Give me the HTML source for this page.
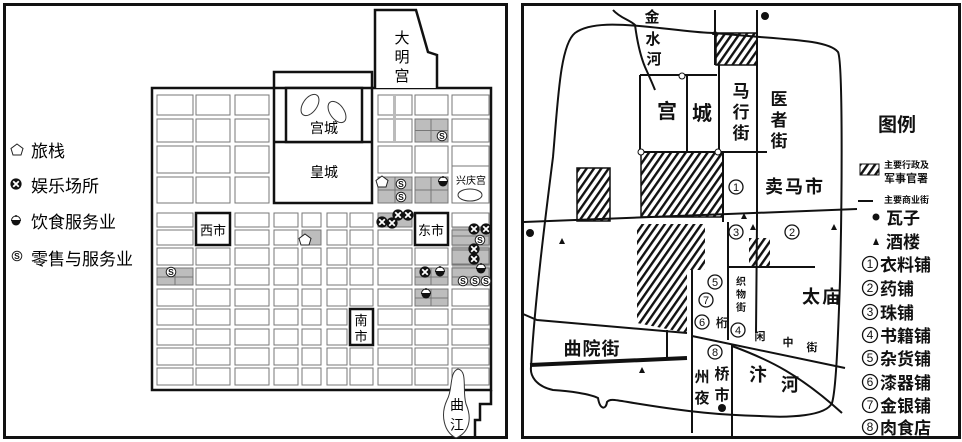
<!DOCTYPE html>
<html><head><meta charset="utf-8"><style>
html,body{margin:0;padding:0;background:#fff}
svg{display:block}
text{font-family:"Liberation Sans","Noto Sans CJK SC",sans-serif}
</style></head><body>
<svg width="962" height="442" viewBox="0 0 962 442" xmlns="http://www.w3.org/2000/svg">
<defs>
<path id="rows" vector-effect="non-scaling-stroke" fill="none" stroke="#777" stroke-width="1" d="M0,95h1v20h-1zM0,119h1v23h-1zM0,146h1v27h-1zM0,177h1v26h-1zM0,213h1v14h-1zM0,230h1v15h-1zM0,248h1v17h-1zM0,268h1v17h-1zM0,289h1v17h-1zM0,309h1v16h-1zM0,329h1v16h-1zM0,348h1v17h-1zM0,368h1v17h-1z"/>
<path id="rowsl" vector-effect="non-scaling-stroke" fill="none" stroke="#777" stroke-width="1" d="M0,213h1v14h-1zM0,230h1v15h-1zM0,248h1v17h-1zM0,268h1v17h-1zM0,289h1v17h-1zM0,309h1v16h-1zM0,329h1v16h-1zM0,348h1v17h-1zM0,368h1v17h-1z"/>
<pattern id="h" width="6" height="6" patternUnits="userSpaceOnUse" patternTransform="rotate(35)">
<rect width="6" height="6" fill="#fff"/><rect width="2.4" height="6" fill="#111"/></pattern>
<g id="X"><circle r="5.6" fill="#111"/><path d="M-2.8,-2.8L2.8,2.8M2.8,-2.8L-2.8,2.8" stroke="#fff" stroke-width="1.8"/></g>
<g id="S"><circle r="4.8" fill="#fff" stroke="#222" stroke-width="1"/><text x="0" y="3.2" font-size="8.5" text-anchor="middle" fill="#111" font-weight="bold">S</text></g>
<g id="F"><path d="M-4.5,-0.5 A4.5,4.5 0 0 1 4.5,-0.5Z" fill="#fff" stroke="#111" stroke-width="1"/><path d="M-4.5,0 H4.5 A4.5,4.5 0 0 1 -4.5,0Z" fill="#111"/><circle cy="-5" r="1" fill="#111"/></g>
<path id="P" d="M0,-6 L6,-1.5 L4,5 L-4,5 L-6,-1.5Z" fill="#fff" stroke="#222" stroke-width="1"/>
</defs>

<rect x="4.5" y="4.5" width="502" height="433" fill="#fff" stroke="#111" stroke-width="3"/>
<use href="#P" x="17" y="150"/>
<text x="31" y="157" font-size="17">旅栈</text>
<use href="#X" x="16" y="184"/>
<text x="31" y="192" font-size="17">娱乐场所</text>
<use href="#F" x="16" y="221"/>
<text x="31" y="228" font-size="17">饮食服务业</text>
<use href="#S" x="17" y="256"/>
<text x="31" y="265" font-size="17">零售与服务业</text>

<g fill="#bdbdbd">
<rect x="415" y="119" width="33" height="23"/>
<rect x="378" y="177" width="34" height="26"/>
<rect x="415" y="177" width="33" height="26"/>
<rect x="378" y="213" width="34" height="14"/>
<rect x="452" y="227" width="37" height="58"/>
<rect x="415" y="268" width="33" height="17"/>
<rect x="415" y="289" width="33" height="17"/>
<rect x="157" y="268" width="36" height="17"/>
<rect x="302" y="230" width="19" height="15"/>
</g>
<g stroke="#777" stroke-width="1" fill="none">
<path d="M415,130.5h33M431,119v23M378,190h34M395,177v26M415,190h33M431,177v26M415,277h33M431,268v17M415,298h33M431,289v17M157,277h36M175,268v17M452,236h37M452,250h37M452,264h37M452,277h37"/>
</g>
<use href="#rows" transform="translate(157,0) scale(36,1)"/>
<use href="#rows" transform="translate(196,0) scale(34,1)"/>
<use href="#rows" transform="translate(235,0) scale(34,1)"/>
<use href="#rows" transform="translate(378,0) scale(34,1)"/>
<use href="#rows" transform="translate(415,0) scale(33,1)"/>
<use href="#rows" transform="translate(452,0) scale(37,1)"/>
<use href="#rowsl" transform="translate(274,0) scale(24,1)"/>
<use href="#rowsl" transform="translate(302,0) scale(19,1)"/>
<use href="#rowsl" transform="translate(327,0) scale(20,1)"/>
<use href="#rowsl" transform="translate(350,0) scale(23,1)"/>
<path d="M394.5,95v47" stroke="#bbb" stroke-width="3"/>
<path d="M152,88H491V390H152Z" fill="none" stroke="#111" stroke-width="2.5"/>
<path d="M491,390V404H480V420H475V437" fill="none" stroke="#111" stroke-width="2.5"/>
<rect x="274" y="72" width="98" height="131" fill="#fff" stroke="#111" stroke-width="2.5"/>
<path d="M274,88H372M274,142H372" stroke="#111" stroke-width="2.5"/>
<rect x="286" y="88" width="76" height="54" fill="#fff" stroke="#111" stroke-width="2.5"/>
<ellipse cx="310" cy="105" rx="7" ry="12" transform="rotate(35 310 105)" fill="none" stroke="#333"/>
<ellipse cx="337" cy="112" rx="7" ry="12" transform="rotate(-35 337 112)" fill="none" stroke="#333"/>
<text x="324" y="133" font-size="14" text-anchor="middle">宫城</text>
<text x="324" y="177" font-size="14" text-anchor="middle">皇城</text>
<path d="M375,88V10H416L428,52L437,55V88" fill="#fff" stroke="#111" stroke-width="2.5"/>
<text x="402" y="43" font-size="15" text-anchor="middle">大</text>
<text x="402" y="62" font-size="15" text-anchor="middle">明</text>
<text x="402" y="81" font-size="15" text-anchor="middle">宫</text>
<rect x="452" y="166" width="37" height="37" fill="#fff" stroke="#777"/>
<text x="471" y="184" font-size="10" text-anchor="middle">兴庆宫</text>
<ellipse cx="470" cy="195" rx="12" ry="6" fill="none" stroke="#333"/>
<rect x="196" y="213" width="34" height="32" fill="#fff" stroke="#111" stroke-width="2.5"/>
<text x="213" y="235" font-size="13" text-anchor="middle">西市</text>
<rect x="415" y="213" width="33" height="32" fill="#fff" stroke="#111" stroke-width="2.5"/>
<text x="431" y="235" font-size="13" text-anchor="middle">东市</text>
<rect x="350" y="309" width="23" height="36" fill="#fff" stroke="#111" stroke-width="2.5"/>
<text x="361" y="325" font-size="13" text-anchor="middle">南</text>
<text x="361" y="341" font-size="13" text-anchor="middle">市</text>
<path d="M458,369C449,372 453,390 447,400C440,415 444,432 456,438C470,432 472,418 466,404C462,390 468,371 458,369Z" fill="#fff" stroke="#333"/>
<text x="457" y="410" font-size="14" text-anchor="middle">曲</text>
<text x="457" y="430" font-size="14" text-anchor="middle">江</text>
<use href="#S" x="442" y="136"/>
<use href="#P" x="382" y="182"/>
<use href="#S" x="401" y="184"/><use href="#S" x="401" y="197"/>
<use href="#F" x="443" y="182"/>
<use href="#X" x="382" y="222"/><use href="#X" x="392" y="223"/><use href="#X" x="398" y="215"/><use href="#X" x="408" y="215"/>
<use href="#P" x="305" y="240"/>
<use href="#X" x="474" y="229"/><use href="#X" x="486" y="229"/><use href="#S" x="480" y="240"/>
<use href="#X" x="474" y="249"/><use href="#X" x="474" y="259"/>
<use href="#F" x="481" y="269"/>
<use href="#S" x="463" y="281"/><use href="#S" x="475" y="281"/><use href="#S" x="486" y="281"/>
<use href="#X" x="425" y="272"/><use href="#F" x="440" y="272"/>
<use href="#F" x="426" y="294"/>
<use href="#S" x="171" y="272"/>

<rect x="522.5" y="4.5" width="437" height="433" fill="#fff" stroke="#111" stroke-width="3"/>
<g fill="url(#h)">
<rect x="716" y="33" width="41" height="32"/>
<rect x="641" y="152" width="82" height="65"/>
<rect x="577" y="168" width="33" height="53"/>
<path d="M637,224H705V270H687V333L637,323Z"/>
<rect x="749" y="238" width="21" height="29"/>
</g>
<g fill="none" stroke="#111" stroke-width="2">
<path d="M553,157C558,100 560,45 575,33C590,22 620,24 650,27C680,30 700,33 713,33L760,37C800,40 830,42 838,52C843,62 842,200 840,280C838,340 836,390 832,403C826,416 790,418 760,416C720,415 690,412 640,404C615,400 610,398 607,402C606,410 600,410 598,398C590,394 570,391 553,390C535,386 530,375 531,367C535,300 545,220 553,157"/>
<path d="M613,10C620,18 630,20 635,25C637,40 640,55 645,67C650,78 653,85 655,90"/>
<path d="M640,75V152H717M640,75H717M687,75V152M719,65V152"/>
<path d="M715,10V65M757,10V222L756,333M723,152V222M728,222V340M720,152H767M727,267H815"/>
<path d="M692,270V433M732,345V437"/>
<path d="M524,222L857,209"/>
<path d="M523,314L537,320L687,333M667,330V358"/>
<path d="M692,336L845,368"/>
<path d="M732,346C770,360 800,375 842,413"/>
</g>
<path d="M530,365L687,358" stroke="#111" stroke-width="4"/>
<path d="M577,168h33v53h-33zM641,152h82v65h-82zM716,33h41v32h-41z" fill="none" stroke="#111" stroke-width="1.5"/>
<circle cx="682" cy="76" r="3" fill="#fff" stroke="#111"/>
<circle cx="641" cy="152" r="3" fill="#fff" stroke="#111"/>
<circle cx="718" cy="152" r="3" fill="#fff" stroke="#111"/>
<circle cx="765" cy="16" r="4" fill="#111"/>
<circle cx="530" cy="233" r="4" fill="#111"/>
<circle cx="722" cy="408" r="4" fill="#111"/>
<g fill="#111">
<path d="M744,213l-3,6h6z"/>
<path d="M562,238l-3,6h6z"/>
<path d="M834,224l-3,6h6z"/>
<path d="M753,224l-3,6h6z"/>
<path d="M642,367l-3,6h6z"/>
<path d="M715,29l-3,6h6z"/>
</g>
<g font-weight="bold" fill="#111">
<text x="652" y="22" font-size="15" text-anchor="middle">金</text>
<text x="653" y="44" font-size="15" text-anchor="middle">水</text>
<text x="654" y="64" font-size="15" text-anchor="middle">河</text>
<text x="667" y="118" font-size="20" text-anchor="middle">宫</text>
<text x="702" y="120" font-size="20" text-anchor="middle">城</text>
<text x="741" y="97" font-size="17" text-anchor="middle">马</text>
<text x="741" y="118" font-size="17" text-anchor="middle">行</text>
<text x="741" y="139" font-size="17" text-anchor="middle">街</text>
<text x="779" y="105" font-size="17" text-anchor="middle">医</text>
<text x="779" y="126" font-size="17" text-anchor="middle">者</text>
<text x="779" y="147" font-size="17" text-anchor="middle">街</text>
<text x="795" y="193" font-size="18" text-anchor="middle" letter-spacing="2">卖马市</text>
<text x="822" y="303" font-size="18" text-anchor="middle" letter-spacing="2">太庙</text>
<text x="592" y="355" font-size="18" text-anchor="middle" letter-spacing="1">曲院街</text>
<text x="702" y="382" font-size="15" text-anchor="middle">州</text>
<text x="702" y="403" font-size="15" text-anchor="middle">夜</text>
<text x="722" y="379" font-size="15" text-anchor="middle">桥</text>
<text x="722" y="400" font-size="15" text-anchor="middle">市</text>
<text x="758" y="381" font-size="18" text-anchor="middle">汴</text>
<text x="790" y="391" font-size="18" text-anchor="middle">河</text>
<text x="741" y="285" font-size="10" text-anchor="middle">织</text>
<text x="741" y="298" font-size="10" text-anchor="middle">物</text>
<text x="741" y="311" font-size="10" text-anchor="middle">街</text>
<text x="722" y="327" font-size="12" text-anchor="middle">桁</text>
<text x="760" y="340" font-size="11" text-anchor="middle">闲</text>
<text x="788" y="346" font-size="11" text-anchor="middle">中</text>
<text x="812" y="351" font-size="11" text-anchor="middle">街</text>
</g>
<g fill="none" stroke="#111" stroke-width="1.3">
<circle cx="736" cy="187" r="7"/><circle cx="736" cy="232" r="7"/><circle cx="792" cy="232" r="7"/>
<circle cx="715" cy="282" r="7"/><circle cx="706" cy="300" r="7"/><circle cx="702" cy="322" r="7"/>
<circle cx="738" cy="330" r="7"/><circle cx="715" cy="352" r="7"/>
</g>
<g font-size="11" text-anchor="middle" fill="#111">
<text x="736" y="191">1</text><text x="736" y="236">3</text><text x="792" y="236">2</text>
<text x="715" y="286">5</text><text x="706" y="304">7</text><text x="702" y="326">6</text>
<text x="738" y="334">4</text><text x="715" y="356">8</text>
</g>
<g font-weight="bold" fill="#111">
<text x="878" y="131" font-size="19">图例</text>
<rect x="860" y="164" width="19" height="11" fill="url(#h)" stroke="#111"/>
<text x="884" y="168" font-size="9">主要行政及</text>
<text x="884" y="182" font-size="11">军事官署</text>
<path d="M858,201H873" stroke="#111" stroke-width="2"/>
<text x="884" y="203" font-size="9">主要商业街</text>
<circle cx="876" cy="217" r="3.5"/>
<text x="886" y="224" font-size="17">瓦子</text>
<path d="M876,238l-3,7h6z"/>
<text x="886" y="248" font-size="17">酒楼</text>
<text x="880" y="271" font-size="17">衣料铺</text>
<text x="880" y="295" font-size="17">药铺</text>
<text x="880" y="319" font-size="17">珠铺</text>
<text x="880" y="342" font-size="17">书籍铺</text>
<text x="880" y="365" font-size="17">杂货铺</text>
<text x="880" y="389" font-size="17">漆器铺</text>
<text x="880" y="412" font-size="17">金银铺</text>
<text x="880" y="434" font-size="17">肉食店</text>
</g>
<g fill="none" stroke="#111" stroke-width="1.3">
<circle cx="870" cy="264" r="7.5"/><circle cx="870" cy="288" r="7.5"/><circle cx="870" cy="312" r="7.5"/>
<circle cx="870" cy="335" r="7.5"/><circle cx="870" cy="358" r="7.5"/><circle cx="870" cy="382" r="7.5"/>
<circle cx="870" cy="405" r="7.5"/><circle cx="870" cy="427" r="7.5"/>
</g>
<g font-size="12" text-anchor="middle" fill="#111">
<text x="870" y="268">1</text><text x="870" y="292">2</text><text x="870" y="316">3</text>
<text x="870" y="339">4</text><text x="870" y="362">5</text><text x="870" y="386">6</text>
<text x="870" y="409">7</text><text x="870" y="431">8</text>
</g>
</svg>
</body></html>
